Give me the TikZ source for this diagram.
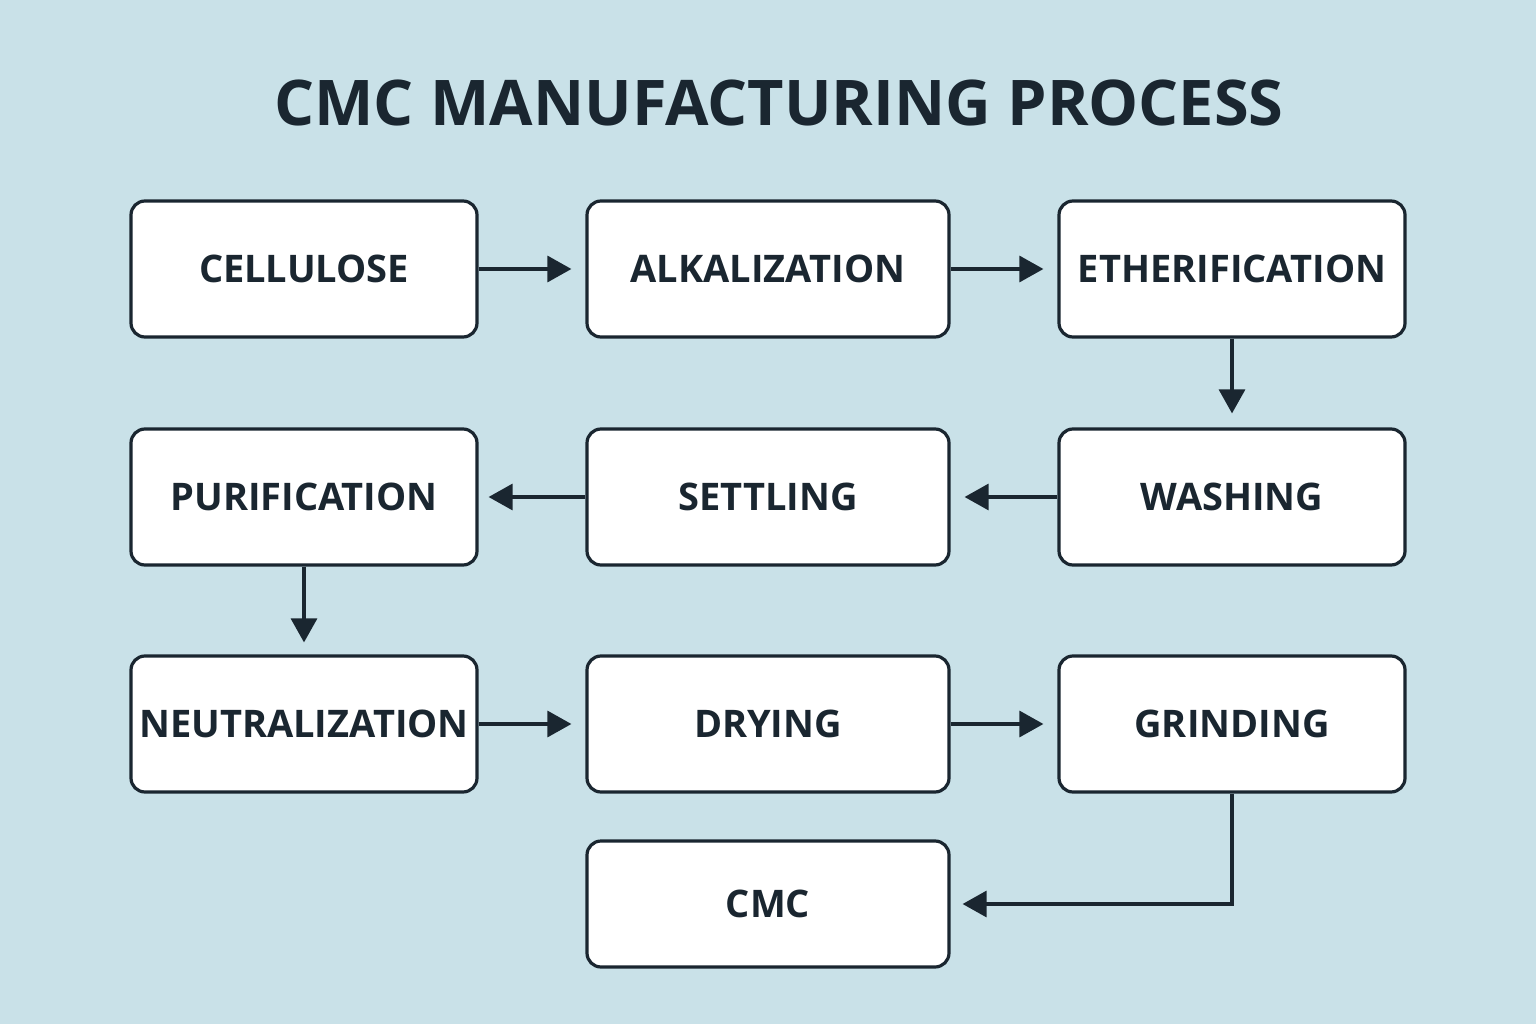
\documentclass[tikz,border=0pt]{standalone}
\usepackage{fontspec}
\setmainfont{Open Sans}
\usetikzlibrary{arrows.meta}
\definecolor{bg}{HTML}{C9E1E8}
\definecolor{ink}{HTML}{1A2630}
\begin{document}
\begin{tikzpicture}[x=1pt,y=-1pt,
  box/.style={draw=ink,line width=3.2pt,rounded corners=14pt,fill=white,minimum width=346pt,minimum height=136pt,inner sep=0pt,font=\fontsize{38}{40}\selectfont\bfseries,text=ink},
  arr/.style={draw=ink,line width=3.2pt,-{Triangle[length=24pt,width=26pt]}}]
\fill[bg] (0,0) rectangle (1536,1024);
\node[text=ink,font=\fontsize{63}{66}\selectfont\bfseries] (title) at (779,103) {CMC MANUFACTURING PROCESS};
\node[box] (cel) at (304,269) {CELLULOSE};
\node[box,minimum width=362pt] (alk) at (768,269) {ALKALIZATION};
\node[box] (eth) at (1232,269) {ETHERIFICATION};
\node[box] (pur) at (304,497) {PURIFICATION};
\node[box,minimum width=362pt] (set) at (768,497) {SETTLING};
\node[box] (was) at (1232,497) {WASHING};
\node[box] (neu) at (304,724) {NEUTRALIZATION};
\node[box,minimum width=362pt] (dry) at (768,724) {DRYING};
\node[box] (gri) at (1232,724) {GRINDING};
\node[box,minimum width=362pt,minimum height=126pt] (cmc) at (768,904) {CMC};
\draw[arr] (cel.east) -- ([xshift=-14pt]alk.west);
\draw[arr] (alk.east) -- ([xshift=-14pt]eth.west);
\draw[arr] (eth.south) -- ([yshift=14pt]was.north);
\draw[arr] (was.west) -- ([xshift=14pt]set.east);
\draw[arr] (set.west) -- ([xshift=10pt]pur.east);
\draw[arr] (pur.south) -- ([yshift=12pt]neu.north);
\draw[arr] (neu.east) -- ([xshift=-14pt]dry.west);
\draw[arr] (dry.east) -- ([xshift=-14pt]gri.west);
\coordinate (bend) at (gri.south |- cmc.east);
\draw[arr] (gri.south) -- (bend) -- ([xshift=12pt]cmc.east);
\end{tikzpicture}
\end{document}
